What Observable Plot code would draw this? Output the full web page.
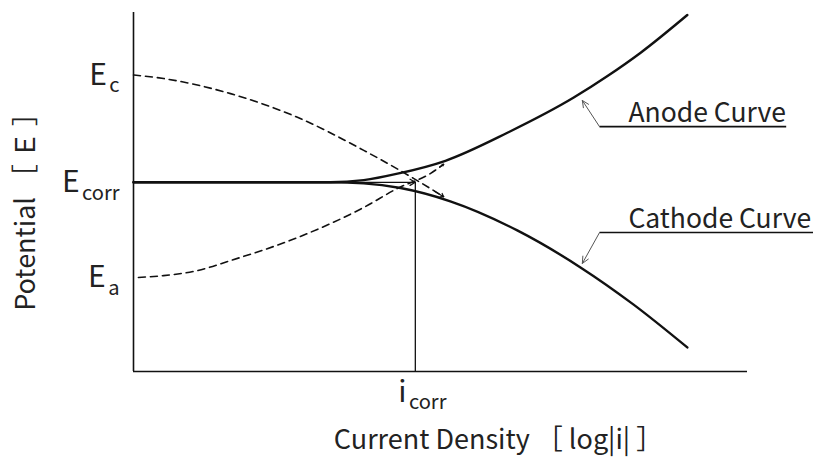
<!DOCTYPE html>
<html>
<head>
<meta charset="utf-8">
<script src="https://cdn.jsdelivr.net/npm/d3@7"></script>
<script src="https://cdn.jsdelivr.net/npm/@observablehq/plot@0.6"></script>
<style>
  html, body { margin: 0; padding: 0; background: #fff; }
</style>
</head>
<body>
<div id="chart"></div>
<script>
// Polarization (Evans) diagram: potential vs. log current density, arbitrary units.

// Potential tick marks on the E axis
const potentialTicks = [2.62, 5.27, 8.26];
const potentialLabels = ["E_a", "E_corr", "E_c"];

// Corrosion point
const Ecorr = 5.27;
const icorr = 4.59;
const icorrLabel = "i_corr";

// Measured (mixed) anode curve
const anodeX = [0, 2.72, 3.21, 3.75, 4.30, 5.08, 6.09, 7.17, 7.72, 8.26, 9.02];
const anodeE = [5.27, 5.27, 5.27, 5.33, 5.51, 5.87, 6.65, 7.63, 8.23, 8.88, 9.93];

// Measured (mixed) cathode curve
const cathodeX = [0, 2.72, 3.21, 3.75, 4.35, 5.16, 6.25, 7.28, 8.14, 9.02];
const cathodeE = [5.27, 5.27, 5.27, 5.24, 5.11, 4.74, 3.93, 2.90, 1.87, 0.67];

// Partial (ideal) cathodic reaction, starting from E_c
const cathodicPartialX = [0, 0.49, 1.58, 2.67, 3.75, 4.56, 5.05];
const cathodicPartialE = [8.26, 8.16, 7.74, 7.08, 6.16, 5.38, 4.87];

// Partial (ideal) anodic reaction, starting from E_a
const anodicPartialX = [0.08, 0.49, 1.04, 1.58, 2.67, 3.75, 4.30, 4.84, 5.05];
const anodicPartialE = [2.62, 2.67, 2.81, 3.09, 3.73, 4.57, 5.10, 5.52, 5.77];

// Curve callouts
const noteText = ["Anode Curve", "Cathode Curve"];
const noteX = [8.06, 8.06];
const noteE = [6.94, 4.01];
const underlineX1 = [7.59, 7.59];
const underlineX2 = [10.63, 11.07];
const underlineE = [6.82, 3.87];
const pointerTipX = [7.31, 7.31];
const pointerTipE = [7.55, 3.01];

const yTitle = "Potential ［\u2009Ｅ\u2009］";
const xTitle = "Current Density ［ log|i| ］";

const toPoints = (xs, es) => xs.map((x, i) => ({x, E: es[i]}));
const anode = toPoints(anodeX, anodeE);
const cathode = toPoints(cathodeX, cathodeE);
const cathodicPartial = toPoints(cathodicPartialX, cathodicPartialE);
const anodicPartial = toPoints(anodicPartialX, anodicPartialE);

const notes = noteText.map((text, i) => ({
  text, x: noteX[i], E: noteE[i],
  ux1: underlineX1[i], ux2: underlineX2[i], uE: underlineE[i],
  tx: pointerTipX[i], tE: pointerTipE[i]
}));

// small arrowheads at the ends of the dashed partial curves
const dashEnds = [cathodicPartial, anodicPartial].map((pts) => {
  const a = pts[pts.length - 2], b = pts[pts.length - 1];
  return {x1: a.x + 0.7 * (b.x - a.x), E1: a.E + 0.7 * (b.E - a.E), x2: b.x, E2: b.E};
});

const ink = "#111";
const textInk = "#222";

const chart = Plot.plot({
  width: 813,
  height: 464,
  marginLeft: 133,
  marginRight: 66,
  marginTop: 12,
  marginBottom: 93,
  style: {fontFamily: "'Noto Sans CJK JP', 'Noto Sans', sans-serif", color: textInk, background: "#fff"},
  x: {domain: [0, 10], axis: null},
  y: {domain: [0, 10], axis: null},
  marks: [
    // partial reactions (dashed)
    Plot.line(cathodicPartial, {x: "x", y: "E", curve: "monotone-x", stroke: ink, strokeWidth: 1.6, strokeDasharray: "7,5"}),
    Plot.line(anodicPartial, {x: "x", y: "E", curve: "monotone-x", stroke: ink, strokeWidth: 1.6, strokeDasharray: "7,5"}),
    Plot.arrow(dashEnds, {x1: "x1", y1: "E1", x2: "x2", y2: "E2", stroke: ink, strokeWidth: 1.2, headLength: 6, headAngle: 70}),
    // E_corr level and i_corr drop line
    Plot.ruleX([icorr], {y1: Ecorr, y2: 0, stroke: ink, strokeWidth: 1.3}),
    Plot.arrow([{x1: 0, x2: icorr, E: Ecorr}], {x1: "x1", x2: "x2", y1: "E", y2: "E", stroke: ink, strokeWidth: 1.3, headLength: 7, headAngle: 60}),
    // measured curves
    Plot.line(anode, {x: "x", y: "E", curve: "monotone-x", stroke: ink, strokeWidth: 2.4}),
    Plot.line(cathode, {x: "x", y: "E", curve: "monotone-x", stroke: ink, strokeWidth: 2.4}),
    // frame axes
    Plot.ruleX([0], {stroke: ink, strokeWidth: 1.6}),
    Plot.ruleY([0], {stroke: ink, strokeWidth: 1.6}),
    // tick labels
    Plot.axisY({ticks: potentialTicks, tickFormat: (d) => potentialLabels[potentialTicks.indexOf(d)],
      tickSize: 0, tickPadding: 14, fontSize: 30, label: null, fill: textInk}),
    Plot.axisX({ticks: [icorr], tickFormat: () => icorrLabel,
      tickSize: 0, tickPadding: 9, fontSize: 30, label: null, dx: 7, fill: textInk}),
    // axis titles
    Plot.text([yTitle], {frameAnchor: "left", rotate: -90, dx: -107, dy: 13, fontSize: 27, lineAnchor: "middle", textAnchor: "middle", fill: textInk}),
    Plot.text([xTitle], {frameAnchor: "bottom", dx: 58, dy: 77, fontSize: 27, lineAnchor: "bottom", textAnchor: "middle", fill: textInk}),
    // callouts
    Plot.link(notes, {x1: "ux1", x2: "ux2", y1: "uE", y2: "uE", stroke: ink, strokeWidth: 1.6}),
    Plot.arrow(notes, {x1: "ux1", y1: "uE", x2: "tx", y2: "tE", stroke: "#555", strokeWidth: 1, headLength: 11, headAngle: 50}),
    Plot.text(notes, {x: "x", y: "E", text: "text", textAnchor: "start", lineAnchor: "bottom", fontSize: 26.5, fill: textInk})
  ]
});

// turn "X_sub" labels into base text plus a lowered, smaller subscript
const SVGNS = "http://www.w3.org/2000/svg";
for (const t of chart.querySelectorAll("text")) {
  if (t.children.length) continue;
  const s = t.textContent;
  const k = s.indexOf("_");
  if (k < 0) continue;
  t.textContent = s.slice(0, k);
  const sub = document.createElementNS(SVGNS, "tspan");
  sub.setAttribute("font-size", "0.67em");
  sub.setAttribute("dy", "0.38em");
  sub.setAttribute("dx", "0.12em");
  sub.textContent = s.slice(k + 1);
  t.appendChild(sub);
}

document.getElementById("chart").appendChild(chart);
</script>
</body>
</html>
